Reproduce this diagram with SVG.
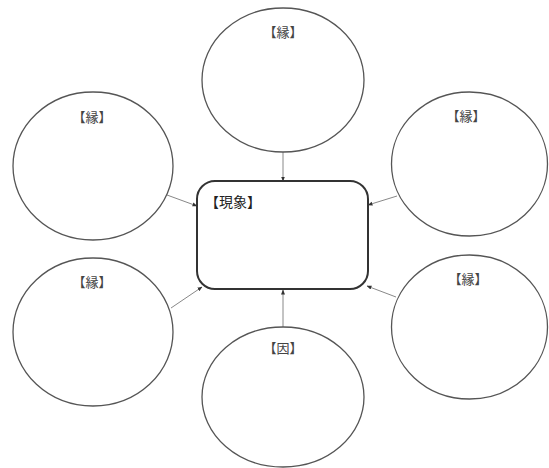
<svg xmlns="http://www.w3.org/2000/svg" width="549" height="468" viewBox="0 0 549 468">
  <style>
    .bubble { fill: #ffffff; stroke: #555555; stroke-width: 1.3; }
    .core { fill: #ffffff; stroke: #333333; stroke-width: 2; }
    .label { font-family: "Noto Sans CJK JP", "Noto Sans CJK SC", sans-serif; fill: #444444; }
    .small { font-size: 13px; text-anchor: middle; }
    .big { font-size: 14px; fill: #222222; }
    .link { stroke: #888888; stroke-width: 1; fill: none; marker-end: url(#tip); }
  </style>
  <defs>
    <marker id="tip" viewBox="0 0 10 10" refX="9" refY="5" markerWidth="5" markerHeight="5" orient="auto" markerUnits="userSpaceOnUse">
      <path d="M0,1 L10,5 L0,9 z" fill="#333333"/>
    </marker>
  </defs>
  <rect width="549" height="468" fill="#ffffff"/>

  <g id="connectors">
    <line class="link" x1="283" y1="152" x2="283" y2="181"/>
    <line class="link" x1="283" y1="327" x2="283" y2="290"/>
    <line class="link" x1="167" y1="195" x2="197" y2="206"/>
    <line class="link" x1="171" y1="308" x2="202" y2="287"/>
    <line class="link" x1="397" y1="196" x2="368" y2="205"/>
    <line class="link" x1="396" y1="297" x2="367" y2="286"/>
  </g>

  <g id="node-top">
    <ellipse class="bubble" cx="283" cy="80" rx="81" ry="72"/>
    <text class="label small" x="283" y="37">【縁】</text>
  </g>
  <g id="node-left-upper">
    <ellipse class="bubble" cx="93" cy="166" rx="80" ry="74"/>
    <text class="label small" x="92" y="122">【縁】</text>
  </g>
  <g id="node-left-lower">
    <ellipse class="bubble" cx="93" cy="332" rx="80" ry="74"/>
    <text class="label small" x="92" y="287">【縁】</text>
  </g>
  <g id="node-right-upper">
    <ellipse class="bubble" cx="469.5" cy="164" rx="78" ry="72"/>
    <text class="label small" x="466" y="121">【縁】</text>
  </g>
  <g id="node-right-lower">
    <ellipse class="bubble" cx="469.5" cy="327" rx="78" ry="72"/>
    <text class="label small" x="468" y="284">【縁】</text>
  </g>
  <g id="node-bottom">
    <ellipse class="bubble" cx="283" cy="397" rx="81" ry="70"/>
    <text class="label small" x="283" y="353">【因】</text>
  </g>

  <g id="node-center">
    <rect class="core" x="197" y="181" width="171" height="108" rx="18" ry="18"/>
    <text class="label big" x="205" y="207">【現象】</text>
  </g>
</svg>
